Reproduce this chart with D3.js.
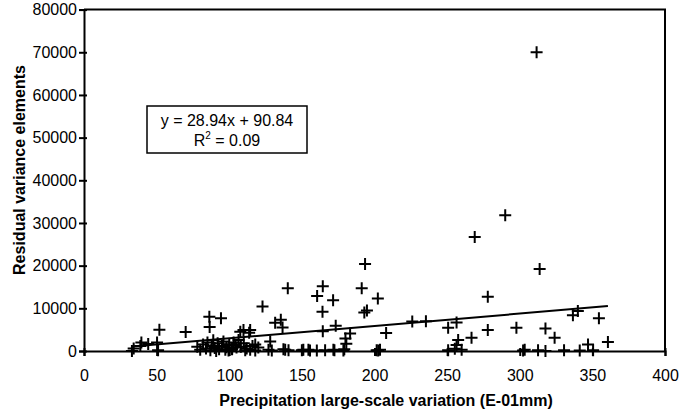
<!DOCTYPE html>
<html>
<head>
<meta charset="utf-8">
<script src="https://cdn.jsdelivr.net/npm/d3@7"></script>
<style>
  body { margin: 0; background: #fff; }
  svg { display: block; font-family: "Liberation Sans", Arial, sans-serif; }
</style>
</head>
<body>
<svg id="chart" width="682" height="414"></svg>
<script>
// tick labels
const xTicks = [0, 50, 100, 150, 200, 250, 300, 350, 400];
const yTicks = [0, 10000, 20000, 30000, 40000, 50000, 60000, 70000, 80000];

// precipitation variation (E-01mm)
const precip = [
  311.6, 290, 269, 313.7, 193.5, 278,
  140.3, 164.4, 160.5, 171.5, 191.2, 202.3, 122.9, 164.2, 193, 194.8,
  226, 235.4, 250.7, 256.5, 257.6, 256.5, 266.8, 278, 297.7, 317.7,
  324, 336.6, 340, 347, 354.5, 360.7,
  131.6, 135.5, 136.7, 114.4, 109.8, 107.6, 113.7, 164.4, 173.3, 183.2,
  180, 180.6, 208, 128.2, 117.9, 106.4, 104.1,
  86.3, 94.3, 86.5, 51.9, 70, 39.5, 44.2, 50.3, 34.2, 38.8, 51, 33,
  250.7, 260, 302.3, 303.4, 312.6, 317.7, 330.5, 341.3, 350.5,
  138.5, 140.8, 150, 154.5, 160.3, 166, 171.7, 178.6, 201.5, 203.8, 255.3,
  127, 129.3, 137.3, 151, 155.6, 172.4, 179.2, 202.6,
  97.3, 99.5, 101.9, 111, 114.4, 117.9,
  78, 80, 82, 84, 85, 87, 88, 89, 90, 91, 92, 93, 95, 96, 98, 100,
  102, 103, 105, 108, 110, 112, 116, 120
];

// residual variance elements
const residual = [
  70000, 31800, 26700, 19200, 20400, 12700,
  14700, 15200, 12900, 11900, 14700, 12300, 10400, 9200, 9050, 9500,
  6900, 7000, 5450, 6700, 2600, 1400, 3100, 4900, 5450, 5300,
  3100, 8400, 9400, 1550, 7650, 2100,
  6600, 7300, 5500, 4900, 4900, 4500, 4300, 4600, 5900, 4100,
  2900, 1700, 4200, 2200, 1500, 2600, 1400,
  8000, 7650, 5600, 5000, 4450, 2000, 1650, 2000, 600, 1200, 200, 0,
  200, 300, 100, 300, 200, 0, 200, 100, 200,
  300, 200, 200, 300, 100, 200, 300, 100, 200, 300, 500,
  300, 100, 400, 300, 100, 200, 400, 100,
  300, 100, 400, 200, 300, 100,
  1000, 300, 1500, 600, 2000, 200, 1200, 2500, 700, 0, 1800, 400, 1200, 2200, 900, 1600,
  500, 2000, 800, 1000, 1800, 600, 1200, 800
];

// linear trend
const trendSlope = 28.94;
const trendIntercept = 90.84;
const equationLines = ['y = 28.94x + 90.84', 'R', ' = 0.09'];

const svg = d3.select('#chart');

const x = d3.scaleLinear().domain([0, 400]).range([84, 665]);
const y = d3.scaleLinear().domain([0, 80000]).range([351, 9.6]);

// plot frame (top + right)
svg.append('path')
    .attr('d', `M${x(0)},${y(80000)}H${x(400)}V${y(0)}`)
    .attr('fill', 'none')
    .attr('stroke', '#000')
    .attr('stroke-width', 2);

// points
svg.append('g')
    .selectAll('path')
    .data(precip.map((p, i) => [p, residual[i]]))
    .join('path')
    .attr('transform', d => `translate(${x(d[0])},${y(d[1])})`)
    .attr('d', 'M-6,0H6M0,-6V6')
    .attr('stroke', '#000')
    .attr('stroke-width', 2)
    .attr('fill', 'none');

// trend line
const xMin = d3.min(precip), xMax = d3.max(precip);
svg.append('line')
    .attr('x1', x(xMin))
    .attr('y1', y(trendSlope * xMin + trendIntercept))
    .attr('x2', x(xMax))
    .attr('y2', y(trendSlope * xMax + trendIntercept))
    .attr('stroke', '#000')
    .attr('stroke-width', 2);

// axes
const xAxis = svg.append('g')
    .attr('transform', `translate(0,${y(0)})`)
    .call(d3.axisBottom(x).tickValues(xTicks).tickFormat(d3.format('d')).tickSize(5).tickPadding(14));
xAxis.selectAll('.tick line').attr('y1', -3);

const yAxis = svg.append('g')
    .attr('transform', `translate(${x(0)},0)`)
    .call(d3.axisLeft(y).tickValues(yTicks).tickFormat(d3.format('d')).tickSize(5).tickPadding(2));
yAxis.selectAll('.tick line').attr('x1', 3);

svg.selectAll('.domain').attr('stroke', '#000').attr('stroke-width', 2);
svg.selectAll('.tick line').attr('stroke', '#000').attr('stroke-width', 2);
svg.selectAll('.tick text')
    .attr('fill', '#000')
    .style('font-size', '16px')
    .style('font-family', '"Liberation Sans", Arial, sans-serif');

// axis titles
svg.append('text')
    .attr('x', 386)
    .attr('y', 406)
    .attr('text-anchor', 'middle')
    .style('font-size', '16px')
    .style('font-weight', 'bold')
    .text('Precipitation large-scale variation (E-01mm)');

svg.append('text')
    .attr('transform', 'translate(25,170) rotate(-90)')
    .attr('text-anchor', 'middle')
    .style('font-size', '16px')
    .style('font-weight', 'bold')
    .text('Residual variance elements');

// equation box
const box = svg.append('g').attr('transform', 'translate(147,106)');
box.append('rect')
    .attr('width', 160)
    .attr('height', 47)
    .attr('fill', '#fff')
    .attr('stroke', '#000')
    .attr('stroke-width', 1.5);
box.append('text')
    .attr('x', 80)
    .attr('y', 20)
    .attr('text-anchor', 'middle')
    .style('font-size', '16px')
    .text(equationLines[0]);
const r2 = box.append('text')
    .attr('x', 80)
    .attr('y', 40)
    .attr('text-anchor', 'middle')
    .style('font-size', '16px');
r2.append('tspan').text(equationLines[1]);
r2.append('tspan').attr('dy', -7).style('font-size', '10px').text('2');
r2.append('tspan').attr('dy', 7).text(equationLines[2]);
</script>
</body>
</html>
